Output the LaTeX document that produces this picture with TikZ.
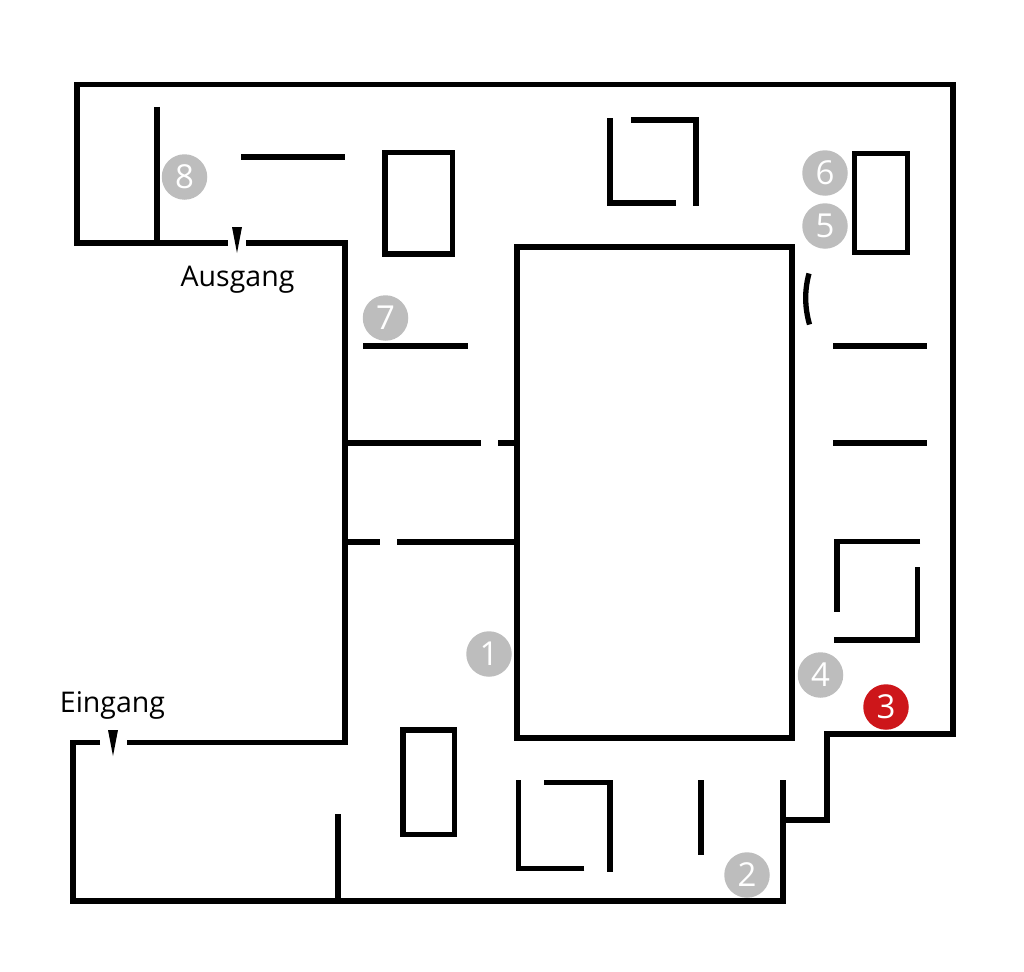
\documentclass[tikz,border=0pt]{standalone}
\usepackage{fontspec}
\setmainfont{Open Sans}
\definecolor{mgrey}{RGB}{189,189,189}
\definecolor{mred}{RGB}{205,22,26}
\tikzset{
  wall/.style={line width=5.3pt,line cap=butt,line join=miter,draw=black},
  badge/.style={circle,minimum size=45.5pt,inner sep=0pt,fill=mgrey,text=white,font=\fontsize{33}{33}\selectfont},
  badgered/.style={badge,fill=mred},
  lbl/.style={inner sep=0pt,font=\fontsize{28.5}{28.5}\selectfont,text=black},
  pointer/.style={fill=black,draw=none}
}
\begin{document}
\begin{tikzpicture}[x=1pt,y=-1pt]
\useasboundingbox (0,0) rectangle (1024,971);
% outer walls
\draw[wall] (246,243) -- (345,243) -- (345,742.5) -- (127,742.5);
\draw[wall] (100,742.5) -- (73,742.5) -- (73,901) -- (783,901) -- (783,780);
\draw[wall] (783,820) -- (827,820) -- (827,734) -- (953,734) -- (953,84.5) -- (77,84.5) -- (77,243) -- (228,243);
% centre block
\draw[wall] (517,247) rectangle (792,738);
% free walls
\draw[wall] (157,107) -- (157,243);
\draw[wall] (241,157) -- (345,157);
\draw[wall] (385,152.4) rectangle (452.7,254);
\draw[wall] (631,120) -- (696,120) -- (696,206);
\draw[wall] (676,203) -- (610,203) -- (610,118);
\draw[wall] (854.2,153.2) rectangle (907.8,252.5);
\draw[wall] (809,273.5) .. controls (804.5,290) and (804.5,307) .. (809.5,324.5);
\draw[wall] (363,346) -- (468,346);
\draw[wall] (833,346) -- (927,346);
\draw[wall] (833,443) -- (927,443);
\draw[wall] (345,443) -- (481,443);
\draw[wall] (498,443) -- (517,443);
\draw[wall] (345,542) -- (380,542);
\draw[wall] (397,542) -- (517,542);
\draw[wall] (920,541.7) -- (837,541.7) -- (837,611.7);
\draw[wall] (917.3,567.3) -- (917.3,640) -- (834.3,640);
\draw[wall] (403,730) rectangle (454.3,834.3);
\draw[wall] (338,814) -- (338,901);
\draw[wall] (584.3,868.7) -- (518.8,868.7) -- (518.8,780);
\draw[wall] (544,782.7) -- (610,782.7) -- (610,871.7);
\draw[wall] (701,780) -- (701,855);
% entrance and exit pointers
\path[pointer] (232,227) -- (242,227) -- (237,253) -- cycle;
\path[pointer] (108,730) -- (118,730) -- (113,756) -- cycle;
\node[lbl] (ausgang) at (237.5,279.5) {Ausgang};
\node[lbl] (eingang) at (112.5,705.5) {Eingang};
% numbered badges
\node[badge] (n1) at (489,654) {1};
\node[badge] (n2) at (747,875) {2};
\node[badgered] (n3) at (886,707) {3};
\node[badge] (n4) at (820.5,675) {4};
\node[badge] (n5) at (825,226) {5};
\node[badge] (n6) at (825,173) {6};
\node[badge] (n7) at (385.5,318) {7};
\node[badge] (n8) at (184.5,177) {8};
\end{tikzpicture}
\end{document}
